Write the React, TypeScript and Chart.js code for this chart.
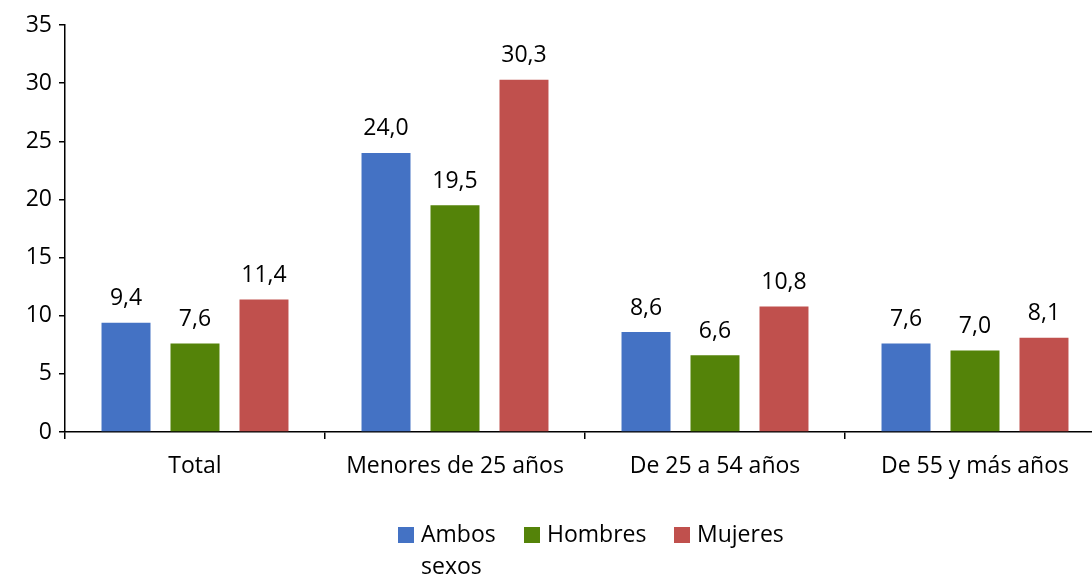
import React, { useEffect, useRef } from "react";
import { Chart, registerables } from "chart.js";

Chart.register(...registerables);

const categories = ["Total", "Menores de 25 años", "De 25 a 54 años", "De 55 y más años"];
const ambos = [9.4, 24.0, 8.6, 7.6];
const hombres = [7.6, 19.5, 6.6, 7.0];
const mujeres = [11.4, 30.3, 10.8, 8.1];
const seriesNames = [["Ambos", "sexos"], ["Hombres"], ["Mujeres"]];
const colors = ["#4472C4", "#548309", "#C0504D"];
const yTicks = [0, 5, 10, 15, 20, 25, 30, 35];

const FONT = "'Open Sans', Lato, sans-serif";
const FS = 23;

const fmt = (v: number) => v.toFixed(1).replace(".", ",");

const labelPlugin = {
  id: "barLabels",
  afterDatasetsDraw(chart: any) {
    const ctx = chart.ctx;
    ctx.save();
    ctx.font = `${FS}px ${FONT}`;
    ctx.fillStyle = "#000";
    ctx.textAlign = "center";
    ctx.textBaseline = "middle";
    chart.data.datasets.forEach((ds: any, i: number) => {
      const meta = chart.getDatasetMeta(i);
      meta.data.forEach((bar: any, j: number) => {
        ctx.fillText(fmt(ds.data[j]), bar.x, bar.y - 24);
      });
    });
    ctx.restore();
  },
};

const legendPlugin = {
  id: "customLegend",
  afterDraw(chart: any) {
    const ctx = chart.ctx;
    ctx.save();
    ctx.font = `${FS}px ${FONT}`;
    ctx.fillStyle = "#000";
    ctx.textBaseline = "middle";
    ctx.textAlign = "left";
    const xs = [398, 524, 674];
    const y = 535;
    seriesNames.forEach((lines, i) => {
      ctx.fillStyle = colors[i];
      ctx.fillRect(xs[i], y - 8, 16, 16);
      ctx.fillStyle = "#000";
      lines.forEach((t, k) => ctx.fillText(t, xs[i] + 23, y + k * 32));
    });
    ctx.restore();
  },
};

export default function App() {
  const ref = useRef<HTMLCanvasElement>(null);
  useEffect(() => {
    if (!ref.current) return;
    const chart = new Chart(ref.current, {
      type: "bar",
      data: {
        labels: categories,
        datasets: [
          { label: "Ambos sexos", data: ambos, backgroundColor: colors[0] },
          { label: "Hombres", data: hombres, backgroundColor: colors[1] },
          { label: "Mujeres", data: mujeres, backgroundColor: colors[2] },
        ],
      },
      options: {
        animation: false,
        responsive: false,
        maintainAspectRatio: false,
        layout: { padding: { top: 25, right: 5, bottom: 0, left: 0 } },
        datasets: { bar: { categoryPercentage: 0.796, barPercentage: 0.71 } },
        plugins: { legend: { display: false }, tooltip: { enabled: false } },
        scales: {
          x: {
            afterFit: (s: any) => { s.height = 143; },
            grid: { offset: true, drawOnChartArea: false, tickLength: 7, color: "#000", lineWidth: 1.5 },
            border: { color: "#000", width: 1.5 },
            ticks: { color: "#000", font: { family: FONT, size: FS }, padding: 14, maxRotation: 0 },
          },
          y: {
            min: 0,
            max: 35,
            afterFit: (s: any) => { s.width = 65; },
            afterBuildTicks: (s: any) => { s.ticks = yTicks.map((v) => ({ value: v })); },
            grid: { drawOnChartArea: false, tickLength: 6, color: "#000", lineWidth: 1.5 },
            border: { color: "#000", width: 1.5 },
            ticks: { color: "#000", font: { family: FONT, size: FS }, padding: 7 },
          },
        },
      },
      plugins: [labelPlugin, legendPlugin],
    });
    return () => chart.destroy();
  }, []);
  return (
    <div style={{ position: "fixed", left: 0, top: 0, width: 1092, height: 575, overflow: "hidden", background: "#fff" }}>
      <canvas ref={ref} width={1110} height={575} style={{ width: 1110, height: 575, display: "block" }} />
    </div>
  );
}
